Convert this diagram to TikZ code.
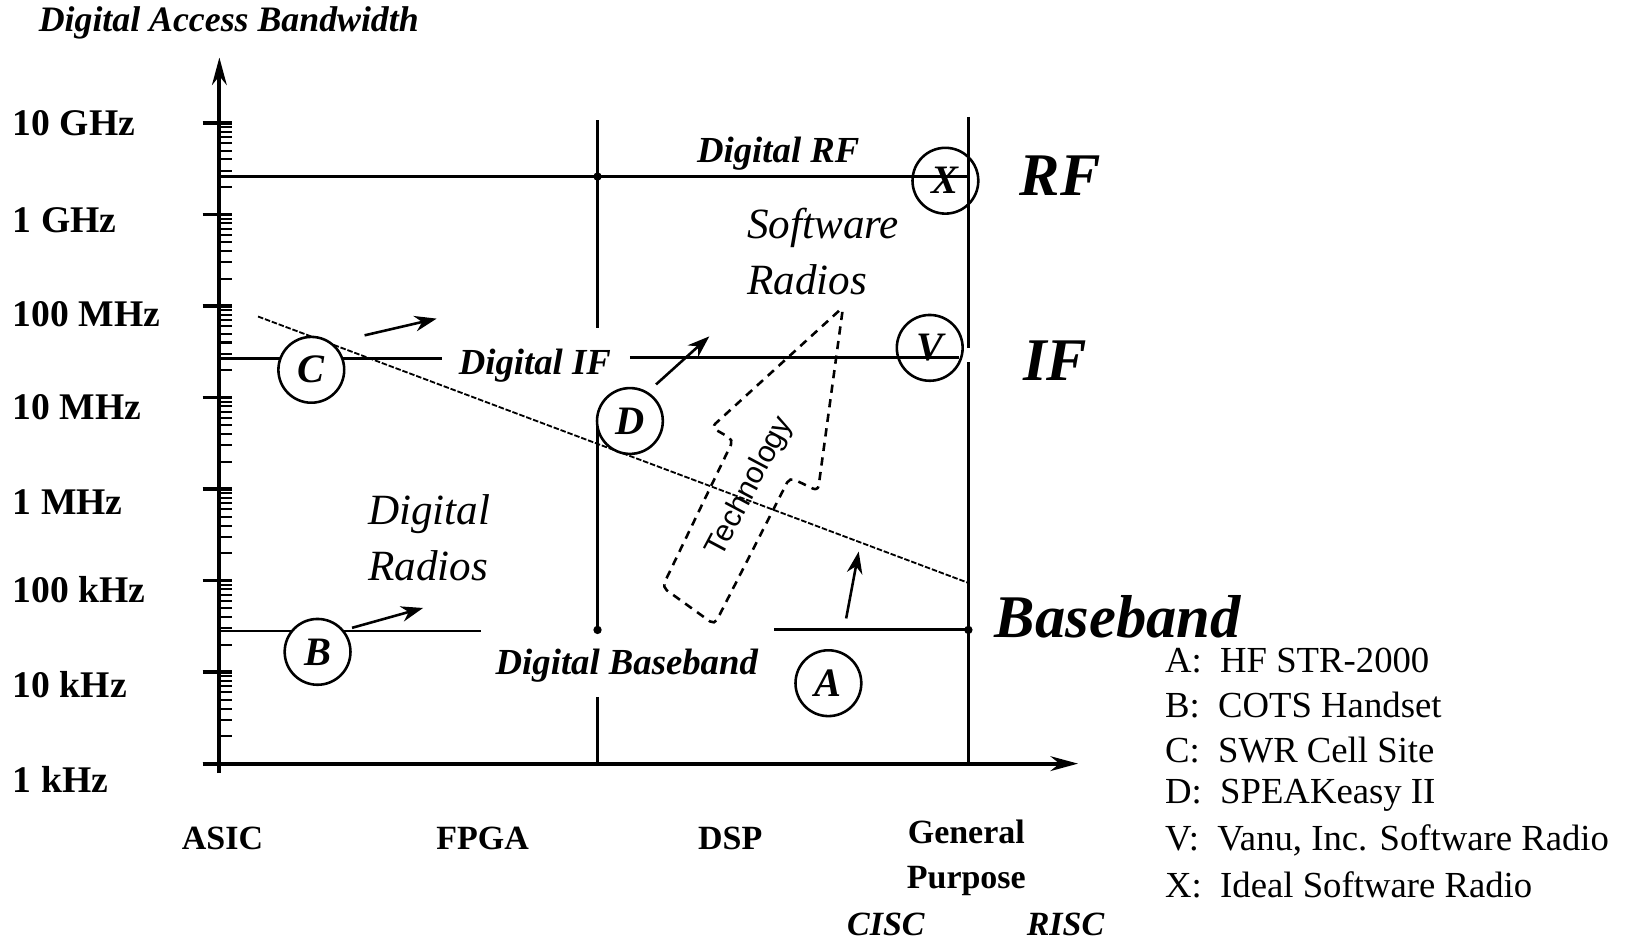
\documentclass[tikz,border=0pt]{standalone}
\usepackage{fontspec}
\setmainfont{Liberation Serif}
\newfontfamily\techfont{Liberation Sans}
\usetikzlibrary{arrows.meta}

\tikzset{
  axisline/.style={line width=2.2pt, -{Stealth[length=15pt, width=8pt]}},
  gridline/.style={line width=1.6pt},
  minortick/.style={line width=1.1pt},
  trend/.style={line width=1pt, dash pattern=on 3pt off 1pt},
  push/.style={line width=1.4pt, -{Stealth[length=12pt, width=8.5pt]}},
  techarrow/.style={line width=1.4pt, dash pattern=on 4.5pt off 3.5pt},
  devc/.style={circle, draw, line width=1.4pt, minimum size=12.6mm, inner sep=0pt,
    font=\bfseries\itshape\fontsize{22}{24}\selectfont},
  ylab/.style={anchor=west, inner sep=0pt, font=\bfseries\fontsize{20.5}{24}\selectfont},
  xlab/.style={inner sep=0pt, align=center, font=\bfseries\fontsize{18.5}{24.5}\selectfont},
  zone/.style={inner sep=0pt, font=\bfseries\itshape\fontsize{20}{24}\selectfont},
  band/.style={inner sep=0pt, font=\bfseries\itshape\fontsize{33}{40}\selectfont},
  region/.style={anchor=west, inner sep=0pt, align=left, font=\itshape\fontsize{23.5}{30.7}\selectfont},
  legtxt/.style={anchor=west, inner sep=0pt, font=\fontsize{20}{24}\selectfont}
}

\begin{document}
\begin{tikzpicture}[x=0.2mm, y=-0.2mm]
\useasboundingbox (0,0) rectangle (1568,902);

% Osie
\draw[axisline] (210,740) -- (210,55);
\draw[axisline] (194,731) -- (1032,731);

% Podzialka logarytmiczna na osi Y
\foreach \d in {0,...,7} {
    \pgfmathsetmacro{\ty}{731 - 87.6*\d}
    \draw[line width=2pt] (194,\ty) -- (222,\ty);
}
\foreach \d in {0,...,6} {
    \foreach \m in {2,...,9} {
        \pgfmathsetmacro{\ty}{731 - 87.6*(\d + log10(\m))}
        \draw[minortick] (210,\ty) -- (222,\ty);
    }
}

% Etykiety osi
\node[zone, font=\bfseries\itshape\fontsize{19.5}{24}\selectfont] (title) at (219,22) {Digital Access Bandwidth};
\foreach \lab/\ly [count=\i] in {10 GHz/118, 1 GHz/211, 100 MHz/301, 10 MHz/390,
                                 1 MHz/481, 100 kHz/564, 10 kHz/655, 1 kHz/746} {
    \node[ylab] (ylab\i) at (12,\ly) {\lab};
}
\node[xlab] (asic) at (213,803) {ASIC};
\node[xlab] (fpga) at (462,803) {FPGA};
\node[xlab] (dsp) at (699,803) {DSP};
\node[xlab] (gp) at (925,821) {General\\Purpose};
\node[xlab, font=\bfseries\itshape\fontsize{18.5}{24}\selectfont] (cisc) at (848,885) {CISC};
\node[xlab, font=\bfseries\itshape\fontsize{18.5}{24}\selectfont] (risc) at (1020,885) {RISC};

% Linie RF, IF i pasma podstawowego
\draw[gridline] (210,169) -- (927,169);
\draw[gridline] (210,343) -- (423,343);
\draw[gridline] (603,342) -- (918,342);
\draw[gridline] (210,604) -- (460,604);
\draw[gridline] (741,603) -- (927,603);
\draw[gridline] (572,115) -- (572,314);
\draw[gridline] (572,403) -- (572,603);
\draw[gridline] (572,667) -- (572,731);
\draw[gridline] (927,112) -- (927,333);
\draw[gridline] (927,347) -- (927,731);
\fill (572,169) circle (4);
\fill (572,603) circle (4);
\fill (927,603) circle (4);

% Granica technologii
\draw[trend] (247,303) -- (927,558);

% Strzalka "Technology"
\draw[techarrow, rounded corners=3pt] (807,294) -- (681,409) -- (702,421) -- (634,562)
    -- (684,598) -- (756,457) -- (783,470) -- cycle;
\node[inner sep=0pt, rotate=62, font=\techfont\fontsize{16.5}{20}\selectfont] (tech) at (718,466) {Technology};

% Punkty (radia)
\node[devc, fill=white] (C) at (298,354) {C};
\node[devc, fill=white] (B) at (304,624) {B};
\node[devc, fill=white] (D) at (603,403) {D};
\node[devc] (A) at (793,654) {A};
\node[devc] (V) at (890,333) {V};
\node[devc] (X) at (905,173) {X};

% Strzalki przesuniecia
\coordinate (c0) at (349,321); \coordinate (c1) at (418,305);
\coordinate (b0) at (337,601); \coordinate (b1) at (405,582);
\coordinate (d0) at (628,368); \coordinate (d1) at (679,322);
\coordinate (a0) at (810,592); \coordinate (a1) at (822,528);
\draw[push] (c0) -- (c1);
\draw[push] (b0) -- (b1);
\draw[push] (d0) -- (d1);
\draw[push] (a0) -- (a1);

% Opisy obszarow
\node[zone] (drf) at (745,147) {Digital RF};
\node[zone] (dif) at (512,350) {Digital IF};
\node[zone] (dbb) at (600,637) {Digital Baseband};
\node[band] (rf) at (1015,168) {RF};
\node[band] (if) at (1010,345) {IF};
\node[band] (bb) at (1070,590) {Baseband};
\node[region] (swr) at (715,241) {Software\\Radios};
\node[region] (dr) at (352,515) {Digital\\Radios};

% Legenda
\foreach \lt/\txt [count=\i] in {A/HF STR-2000, B/COTS Handset, C/SWR Cell Site, D/SPEAKeasy II,
                                 V/{Vanu, Inc. Software Radio}, X/Ideal Software Radio} {
    \pgfmathsetmacro{\ly}{632 + 43*(\i-1)}
    \node[legtxt] (leg\lt) at (1115,\ly) {\lt:\ \ \txt};
}
\end{tikzpicture}
\end{document}
